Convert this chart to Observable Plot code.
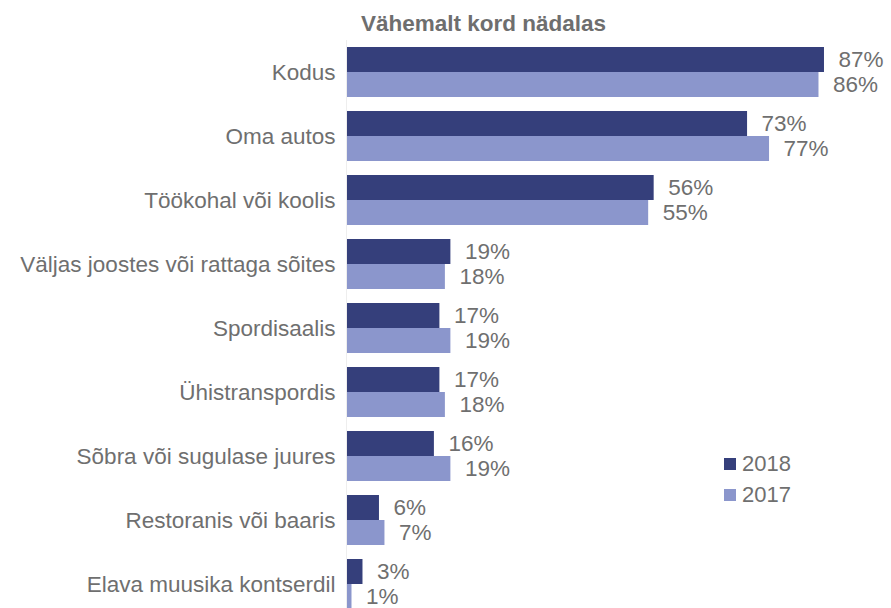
<!DOCTYPE html>
<html>
<head>
<meta charset="utf-8">
<script src="https://cdn.jsdelivr.net/npm/d3@7"></script>
<script src="https://cdn.jsdelivr.net/npm/@observablehq/plot@0.6"></script>
<style>
  html, body { margin: 0; padding: 0; background: #fff; }
  #wrap { position: relative; width: 891px; height: 608px; overflow: hidden; font-family: "Liberation Sans", Arial, sans-serif; }
  #title { position: absolute; left: 361px; top: 13px; font-size: 22.5px; line-height: 22px; font-weight: bold; color: #6e6e6e; white-space: nowrap; }
  #legend { position: absolute; left: 724px; top: 448px; font-size: 22px; color: #6f6f6f; }
  .row { display: flex; align-items: center; height: 31px; }
  .sw { width: 12px; height: 12px; margin-right: 6px; }
</style>
</head>
<body>
<div id="wrap">
  <div id="chart"></div>
  <div id="title">Vähemalt kord nädalas</div>
  <div id="legend"></div>
</div>
<script>
const categories = [
  "Kodus",
  "Oma autos",
  "Töökohal või koolis",
  "Väljas joostes või rattaga sõites",
  "Spordisaalis",
  "Ühistranspordis",
  "Sõbra või sugulase juures",
  "Restoranis või baaris",
  "Elava muusika kontserdil"
];
const values2018 = [87, 73, 56, 19, 17, 17, 16, 6, 3];
const values2017 = [86, 77, 55, 18, 19, 18, 19, 7, 1];
const seriesNames = ["2018", "2017"];
const seriesColors = ["#353f7b", "#8b96cc"];

const d2018 = categories.map((c, i) => ({cat: c, v: values2018[i]}));
const d2017 = categories.map((c, i) => ({cat: c, v: values2017[i]}));

const textColor = "#6f6f6f";
const half = 25;

const chart = Plot.plot({
  width: 891,
  height: 608,
  marginLeft: 346,
  marginRight: 0,
  marginTop: 40,
  marginBottom: 0,
  style: {fontFamily: "'Liberation Sans', Arial, sans-serif", color: textColor, background: "#fff"},
  x: {domain: [0, 100], range: [346, 346 + 549.4], axis: null},
  y: {domain: categories, range: [40, 616], paddingInner: 0.21875, paddingOuter: 0.109375, label: null},
  marks: [
    Plot.barX(d2018, {x: "v", y: "cat", fill: seriesColors[0], insetBottom: half}),
    Plot.barX(d2017, {x: "v", y: "cat", fill: seriesColors[1], insetTop: half}),
    Plot.ruleX([0], {stroke: "#eeeeee", strokeWidth: 1}),
    Plot.axisY({tickSize: 0, tickPadding: 11, fontSize: 22.5, label: null}),
    Plot.text(d2018, {x: "v", y: "cat", text: d => d.v + "%", dy: -13, dx: 14, textAnchor: "start", fontSize: 22.5, fill: textColor}),
    Plot.text(d2017, {x: "v", y: "cat", text: d => d.v + "%", dy: 12, dx: 14, textAnchor: "start", fontSize: 22.5, fill: textColor})
  ]
});
document.getElementById("chart").appendChild(chart);

const legend = document.getElementById("legend");
seriesNames.forEach((n, i) => {
  const row = document.createElement("div");
  row.className = "row";
  const sw = document.createElement("div");
  sw.className = "sw";
  sw.style.background = seriesColors[i];
  const lab = document.createElement("span");
  lab.textContent = n;
  row.appendChild(sw);
  row.appendChild(lab);
  legend.appendChild(row);
});
</script>
</body>
</html>
